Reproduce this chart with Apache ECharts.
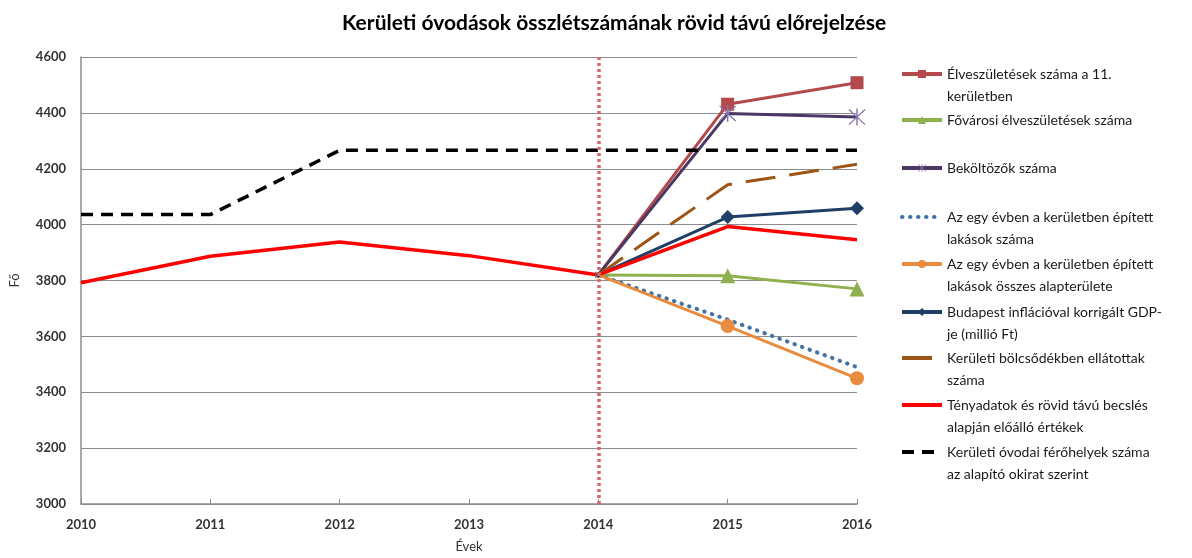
<!DOCTYPE html>
<html>
<head>
<meta charset="utf-8">
<title>Kerületi óvodások összlétszámának rövid távú előrejelzése</title>
<script src="https://cdn.jsdelivr.net/npm/echarts@6/dist/echarts.min.js"></script>
<style>
  html, body { margin: 0; padding: 0; background: #fff; }
  #chart { width: 1192px; height: 558px; }
</style>
</head>
<body>
<div id="chart"></div>
<script>
// évek (x tengely)
const years = ['2010', '2011', '2012', '2013', '2014', '2015', '2016'];

// tényadatok + rövid távú becslés
const tenyadatok = [3792, 3887, 3938, 3889, 3820, 3993, 3946];
// óvodai férőhelyek
const ferohelyek = [4036, 4036, 4266, 4266, 4266, 4266, 4266];

// előrejelzések 2014-től
const elveszuletesek = [null, null, null, null, 3820, 4431, 4508];
const fovarosi = [null, null, null, null, 3820, 3817, 3770];
const bekoltozok = [null, null, null, null, 3820, 4398, 4385];
const lakasokSzama = [null, null, null, null, 3820, 3660, 3490];
const alapterulet = [null, null, null, null, 3820, 3637, 3450];
const gdp = [null, null, null, null, 3820, 4027, 4059];
const bolcsode = [null, null, null, null, 3820, 4143, 4216];

const yTicks = { min: 3000, max: 4600, interval: 200 };

const FONT = 'Lato';
const ASTERISK = 'path://M9.2 0h1.6v20h-1.6zM0.6 1.6L1.6 0.6L19.4 18.4L18.4 19.4zM18.4 0.6L19.4 1.6L1.6 19.4L0.6 18.4z';

// a 2014-es közös pontnál kisebb jelölők
const markerSize = (big) => (val, p) => (p.dataIndex === 4 ? 6 : big);

const chart = echarts.init(document.getElementById('chart'));

const series = [
  {
    name: 'Élveszületések száma a 11.\nkerületben',
    data: elveszuletesek,
    color: '#b3494a',
    symbol: 'rect',
    symbolSize: markerSize(13),
    lineStyle: { width: 3 }
  },
  {
    name: 'Fővárosi élveszületések száma',
    data: fovarosi,
    color: '#8fb04f',
    symbol: 'triangle',
    symbolSize: markerSize(15),
    lineStyle: { width: 3 }
  },
  {
    name: 'Beköltözők száma',
    data: bekoltozok,
    color: '#4a3763',
    symbol: ASTERISK,
    symbolSize: markerSize(17),
    itemStyle: { color: '#8a73b0' },
    lineStyle: { width: 3, color: '#4a3763' }
  },
  {
    name: 'Az egy évben a kerületben épített\nlakások száma',
    data: lakasokSzama,
    color: '#4572a7',
    symbol: 'none',
    lineStyle: { width: 4, type: [0.5, 7.5], cap: 'round' }
  },
  {
    name: 'Az egy évben a kerületben épített\nlakások összes alapterülete',
    data: alapterulet,
    color: '#e98c3f',
    symbol: 'circle',
    symbolSize: markerSize(14),
    lineStyle: { width: 3 }
  },
  {
    name: 'Budapest inflációval korrigált GDP-\nje (millió Ft)',
    data: gdp,
    color: '#1f3f66',
    symbol: 'diamond',
    symbolSize: markerSize(14),
    lineStyle: { width: 3 }
  },
  {
    name: 'Kerületi bölcsődékben ellátottak\nszáma',
    data: bolcsode,
    color: '#9c5514',
    symbol: 'none',
    lineStyle: { width: 3, type: [30, 14] }
  },
  {
    name: 'Tényadatok és rövid távú becslés\nalapján előálló értékek',
    data: tenyadatok,
    color: '#ff0000',
    symbol: 'none',
    lineStyle: { width: 3.5 }
  },
  {
    name: 'Kerületi óvodai férőhelyek száma\naz alapító okirat szerint',
    data: ferohelyek,
    color: '#000000',
    symbol: 'none',
    lineStyle: { width: 3.5, type: [12, 8] }
  }
].map((s) => Object.assign({ type: 'line', showAllSymbol: true, connectNulls: false, animation: false }, s));

// függőleges pontozott vonal 2014-nél
series[0].markLine = {
  silent: true,
  symbol: 'none',
  label: { show: false },
  lineStyle: { color: '#d26a6c', width: 3.5, type: [3, 3] },
  data: [{ xAxis: '2014' }]
};
series[0].z = 2;

// jelmagyarázat: elemenként külön pozícióval
// kétsoros feliratnál egy üres első sor kerül elé, így a jel az első sorhoz igazodik
const legendY = [74, 120, 168, 217, 264, 312, 358, 405, 452];
const legends = series.map((s, i) => {
  const twoLines = s.name.indexOf('\n') >= 0;
  return {
    orient: 'vertical',
    left: 900,
    top: legendY[i] - (twoLines ? 33 : 11),
    padding: 0,
    itemWidth: 40,
    itemHeight: 10,
    itemGap: 0,
    selectedMode: false,
    formatter: (name) => (twoLines ? '\n' + name : name),
    lineStyle: { width: 4 },
    data: [{
      name: s.name,
      itemStyle: s.symbol === 'none' ? { opacity: 0 } : {}
    }],
    textStyle: {
      fontFamily: FONT,
      fontSize: 14,
      color: '#1a1a1a',
      lineHeight: 22
    }
  };
});

chart.setOption({
  backgroundColor: '#ffffff',
  animation: false,
  title: {
    text: 'Kerületi óvodások összlétszámának rövid távú előrejelzése',
    left: 337,
    top: 8,
    textStyle: { fontFamily: FONT, fontSize: 21, fontWeight: 'bold', color: '#000' }
  },
  legend: legends,
  grid: { left: 77, right: 335, top: 57, bottom: 48 },
  xAxis: {
    type: 'category',
    data: years,
    boundaryGap: false,
    name: 'Évek',
    nameLocation: 'middle',
    nameGap: 36,
    nameTextStyle: { fontFamily: FONT, fontSize: 13, color: '#333' },
    axisLine: { lineStyle: { color: '#8c8c8c', width: 1.5 } },
    axisTick: { show: true, inside: true, length: 5, lineStyle: { color: '#8c8c8c' } },
    axisLabel: { fontFamily: FONT, fontSize: 13, fontWeight: 'bold', color: '#333', margin: 14 },
    splitLine: { show: false }
  },
  yAxis: {
    type: 'value',
    min: yTicks.min,
    max: yTicks.max,
    interval: yTicks.interval,
    name: 'Fő',
    nameLocation: 'middle',
    nameGap: 60,
    nameTextStyle: { fontFamily: FONT, fontSize: 13, color: '#333' },
    axisLine: { show: true, lineStyle: { color: '#8c8c8c', width: 1.5 } },
    axisTick: { show: false },
    axisLabel: {
      fontFamily: FONT,
      fontSize: 13,
      fontWeight: 'bold',
      color: '#333',
      margin: 15,
      formatter: (v) => String(v)
    },
    splitLine: { lineStyle: { color: '#8c8c8c', width: 1 } }
  },
  series: series
});
</script>
</body>
</html>
